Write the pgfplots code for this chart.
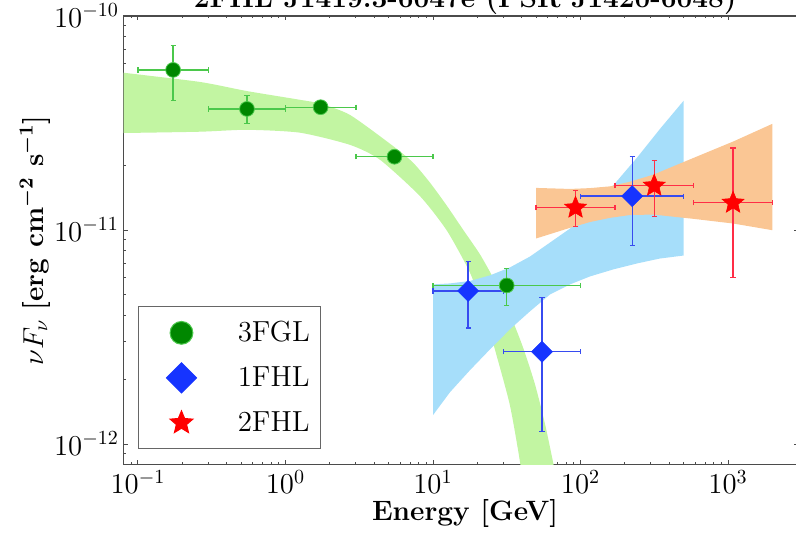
\documentclass[border=0pt]{standalone}
\usepackage{pgfplots}
\pgfplotsset{compat=1.18}
\usetikzlibrary{calc}

\definecolor{bandgreen}{RGB}{194,245,162}
\definecolor{bandblue}{RGB}{166,222,250}
\definecolor{bandorange}{RGB}{250,198,148}
\definecolor{ptgreen}{RGB}{0,135,0}
\definecolor{bargreen}{RGB}{75,200,75}
\definecolor{ptblue}{RGB}{22,52,255}
\definecolor{barblue}{RGB}{55,75,240}
\definecolor{ptred}{RGB}{255,0,0}
\definecolor{barred}{RGB}{255,45,70}
\definecolor{framegray}{RGB}{75,75,75}

% filled five-pointed star
\pgfdeclareplotmark{fivestar}{%
  \pgfpathmoveto{\pgfpointpolar{90}{\pgfplotmarksize}}%
  \pgfpathlineto{\pgfpointpolar{126}{0.45\pgfplotmarksize}}%
  \pgfpathlineto{\pgfpointpolar{162}{\pgfplotmarksize}}%
  \pgfpathlineto{\pgfpointpolar{198}{0.45\pgfplotmarksize}}%
  \pgfpathlineto{\pgfpointpolar{234}{\pgfplotmarksize}}%
  \pgfpathlineto{\pgfpointpolar{270}{0.45\pgfplotmarksize}}%
  \pgfpathlineto{\pgfpointpolar{306}{\pgfplotmarksize}}%
  \pgfpathlineto{\pgfpointpolar{342}{0.45\pgfplotmarksize}}%
  \pgfpathlineto{\pgfpointpolar{18}{\pgfplotmarksize}}%
  \pgfpathlineto{\pgfpointpolar{54}{0.45\pgfplotmarksize}}%
  \pgfpathclose
  \pgfusepathqfillstroke
}

\pgfplotsset{
  sedpoints/.style={
    only marks,
    error bars/x dir=both, error bars/x explicit,
    error bars/y dir=both, error bars/y explicit,
    error bars/error bar style={line width=0.65pt, #1},
    error bars/error mark options={rotate=90, mark size=1.3pt, line width=0.65pt, #1},
  },
}

\begin{document}
\begin{tikzpicture}
\begin{axis}[
  name=ax,
  scale only axis,
  width=337.35pt, height=224.35pt,
  xmode=log, ymode=log,
  xmin=0.08, xmax=3000, ymin=8e-13, ymax=1e-10,
  axis line style={framegray, line width=0.6pt},
  every tick/.style={framegray, line width=0.5pt},
  major tick length=2.2pt, minor tick length=1.2pt,
  tick label style={font=\fontsize{14}{16}\selectfont},
  xticklabel style={anchor=north, inner sep=0pt, yshift=-2.6pt},
  yticklabel style={anchor=base east, inner sep=0pt, xshift=-2.2pt, yshift=-5.5pt},
  title={2FHL J1419.3-6047e (PSR J1420-6048)},
  title style={at={(axis description cs:0.506,1)}, anchor=base, yshift=-1.5pt,
    font=\fontsize{14}{16}\selectfont\bfseries},
  xlabel={Energy [GeV]},
  xlabel style={at={(axis description cs:0.506,0)}, anchor=base, yshift=-28pt,
    font=\fontsize{14}{16}\selectfont\bfseries},
  ylabel={$\nu F_\nu$ {\bfseries\boldmath [erg cm$^{-2}$ s$^{-1}$]}},
  ylabel style={at={(axis description cs:-0.1196,0.5)}, anchor=base,
    font=\fontsize{14}{16}\selectfont},
  legend cell align=left,
  legend style={at={(0.0216,0.0343)}, anchor=south west,
    draw=black!60, line width=0.5pt, fill=white,
    inner xsep=5.5pt, inner ysep=1.75pt, column sep=12.3pt, row sep=0pt,
    nodes={inner sep=0pt},
    font=\fontsize{14.5}{17}\selectfont},
]

% 3FGL spectral model band
\addplot[forget plot, draw=none, fill=bandgreen, smooth, tension=0.4] coordinates {
  (0.07,5.55e-11) (0.0791,5.44e-11) (0.263,4.92e-11) (0.548,4.46e-11)
  (1.254,4.06e-11) (1.714,3.90e-11) (2.737,3.45e-11) (5.44,2.45e-11)
  (7.35,2.06e-11) (9.54,1.665e-11) (12.4,1.30e-11) (15.97,1.005e-11)
  (20.83,7.69e-12) (26.33,5.75e-12) (33.27,4.04e-12) (40.75,2.83e-12)
  (49.15,1.90e-12) (57.45,1.24e-12) (65.1,8.24e-13) (72.6,5.54e-13)
  (81.0,3.61e-13)
  (44.1,4.47e-13) (38.9,8.24e-13) (33.27,1.51e-12) (27.03,2.58e-12)
  (21.93,4.26e-12) (17.81,6.32e-12) (12.4,9.95e-12) (8.16,1.44e-11)
  (4.37,2.13e-11) (2.737,2.50e-11) (1.254,2.85e-11) (0.548,2.94e-11)
  (0.263,2.88e-11) (0.0791,2.84e-11) (0.07,2.84e-11)
};

% 1FHL power-law butterfly
\addplot[forget plot, draw=none, fill=bandblue] coordinates {
  (10,5.57e-12) (13.04,5.63e-12) (17.81,5.78e-12) (24.35,6.14e-12)
  (33.27,6.69e-12) (45.46,7.52e-12) (62.12,8.74e-12) (84.87,1.016e-11)
  (116.0,1.233e-11) (166.1,1.612e-11) (241.6,2.18e-11) (345.9,2.97e-11)
  (500,4.02e-11)
  (500,7.60e-12) (345.9,7.36e-12) (241.6,6.98e-12) (166.1,6.54e-12)
  (116.0,6.07e-12) (84.87,5.57e-12) (62.12,5.00e-12) (45.46,4.17e-12)
  (33.27,3.44e-12) (24.35,2.77e-12) (17.81,2.213e-12) (13.04,1.747e-12)
  (10,1.365e-12)
};

% 2FHL power-law butterfly
\addplot[forget plot, draw=none, fill=bandorange] coordinates {
  (50,1.573e-11) (84.9,1.556e-11) (116,1.570e-11) (158.5,1.600e-11)
  (216.6,1.682e-11) (312,1.815e-11) (582,2.171e-11) (1087,2.594e-11)
  (2000,3.136e-11)
  (2000,9.98e-12) (1087,1.072e-11) (582,1.128e-11) (312,1.181e-11)
  (216.6,1.175e-11) (158.5,1.140e-11) (116,1.090e-11) (84.9,1.024e-11)
  (50,9.13e-12)
};

% 3FGL fluxes
\addplot[sedpoints=bargreen, mark=*, mark size=3.7pt,
  mark options={fill=ptgreen, draw=bargreen, line width=0.4pt},
  legend image code/.code={
    \path[draw=none] (-15.85pt,-11.25pt) rectangle (15.85pt,11.25pt);
    \draw[mark=*, mark size=5.7pt, mark options={fill=ptgreen, draw=bargreen, line width=0.5pt}]
      plot coordinates {(0pt,0pt)};}]
coordinates {
  (0.173,5.60e-11) += (0.127,1.67e-11) -= (0.073,1.58e-11)
  (0.548,3.68e-11) += (0.452,0.56e-11) -= (0.248,0.54e-11)
  (1.73,3.75e-11)  += (1.27,0.12e-11)  -= (0.73,0.12e-11)
  (5.48,2.20e-11)  += (4.52,0.07e-11)  -= (2.48,0.07e-11)
  (31.6,5.51e-12)  += (68.4,1.10e-12)  -= (21.6,1.06e-12)
};
\addlegendentry{3FGL}

% 1FHL fluxes
\addplot[sedpoints=barblue, mark=square*, mark size=3.7pt,
  mark options={rotate=45, fill=ptblue, draw=ptblue, line width=0.3pt},
  legend image code/.code={
    \path[draw=none] (-15.85pt,-11.25pt) rectangle (15.85pt,11.25pt);
    \draw[mark=square*, mark size=5.3pt, mark options={rotate=45, fill=ptblue, draw=ptblue}]
      plot coordinates {(0pt,0pt)};}]
coordinates {
  (17.3,5.19e-12) += (12.7,1.92e-12) -= (7.3,1.71e-12)
  (54.8,2.70e-12) += (45.2,2.13e-12) -= (24.8,1.56e-12)
  (224,1.44e-11)  += (276,0.77e-11)  -= (124,0.593e-11)
};
\addlegendentry{1FHL}

% 2FHL fluxes
\addplot[sedpoints=barred, mark=fivestar, mark size=5.75pt,
  mark options={fill=ptred, draw=ptred, line width=0.3pt},
  legend image code/.code={
    \path[draw=none] (-15.85pt,-11.25pt) rectangle (15.85pt,11.25pt);
    \draw[mark=fivestar, mark size=6pt, mark options={fill=ptred, draw=ptred}]
      plot coordinates {(0pt,0pt)};}]
coordinates {
  (92.5,1.27e-11) += (78.5,0.26e-11) -= (42.5,0.235e-11)
  (316,1.61e-11)  += (269,0.51e-11)  -= (145,0.45e-11)
  (1082,1.34e-11) += (918,1.08e-11)  -= (497,0.741e-11)
};
\addlegendentry{2FHL}

\end{axis}
\pgfresetboundingbox
\useasboundingbox ($(ax.south west)+(-61.85pt,-33.65pt)$) rectangle ($(ax.north east)+(-1.2pt,8pt)$);
\end{tikzpicture}
\end{document}
